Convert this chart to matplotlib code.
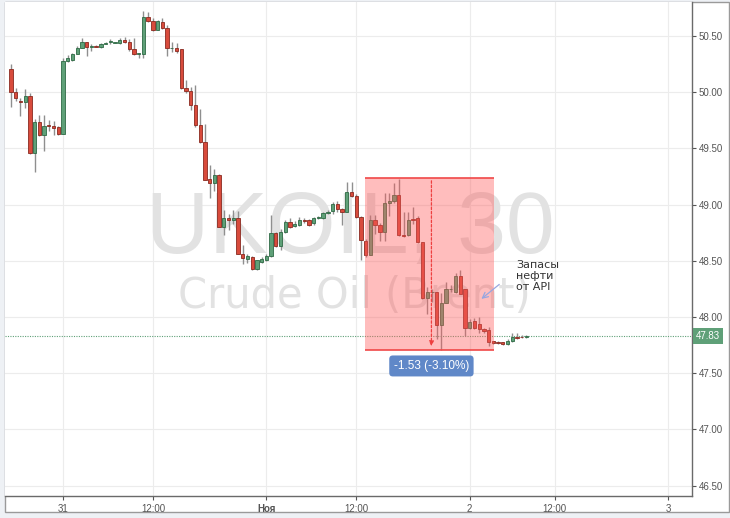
import matplotlib
matplotlib.use("Agg")
import matplotlib.pyplot as plt
from matplotlib.patches import Rectangle
from matplotlib.transforms import blended_transform_factory
import numpy as np

# 30-minute UKOIL candles (open, high, low, close)
opens = [50.21, 50.00, 49.925, 49.91, 49.97, 49.456, 49.73, 49.62, 49.71, 49.70,
         49.69, 49.63, 50.28, 50.29, 50.34, 50.39, 50.45, 50.40, 50.41, 50.40,
         50.43, 50.445, 50.44, 50.44, 50.46, 50.45, 50.38, 50.34, 50.34, 50.67,
         50.63, 50.55, 50.62, 50.57, 50.39, 50.39, 50.38, 50.04, 50.01, 49.89,
         49.71, 49.56, 49.225, 49.19, 49.26, 48.80, 48.88, 48.86, 48.88, 48.56,
         48.515, 48.536, 48.424, 48.49, 48.507, 48.54, 48.745, 48.632, 48.759, 48.848,
         48.81, 48.818, 48.863, 48.86, 48.834, 48.878, 48.878, 48.923, 48.943, 49.005,
         48.961, 48.931, 49.109, 49.079, 48.892, 48.679, 48.552, 48.863, 48.818, 48.753,
         49.01, 49.03, 49.085, 48.73, 48.73, 48.87, 48.878, 48.67, 48.17, 48.22,
         48.22, 47.93, 48.127, 48.246, 48.22, 48.365, 48.246, 47.90, 47.96, 47.94,
         47.89, 47.88, 47.786, 47.78, 47.775, 47.76, 47.786, 47.825, 47.825, 47.82]
highs = [50.25, 50.04, 49.945, 50.03, 49.99, 49.76, 49.80, 49.80, 49.75, 49.74,
         49.70, 50.30, 50.33, 50.35, 50.41, 50.48, 50.45, 50.43, 50.42, 50.44,
         50.45, 50.47, 50.45, 50.48, 50.49, 50.47, 50.48, 50.35, 50.72, 50.715,
         50.66, 50.64, 50.66, 50.60, 50.45, 50.44, 50.38, 50.11, 50.05, 50.06,
         49.85, 49.72, 49.35, 49.32, 49.27, 48.95, 48.92, 48.95, 48.94, 48.64,
         48.56, 48.54, 48.51, 48.53, 48.56, 48.91, 48.76, 48.78, 48.86, 48.88,
         48.85, 48.89, 48.88, 48.87, 48.89, 48.90, 48.93, 48.95, 49.02, 49.03,
         48.97, 49.20, 49.20, 49.09, 48.90, 48.69, 48.91, 48.91, 48.84, 49.10,
         49.10, 49.19, 49.225, 48.93, 48.93, 48.98, 48.90, 48.67, 48.27, 48.25,
         48.225, 48.21, 48.31, 48.28, 48.39, 48.42, 48.25, 47.98, 47.99, 48.00,
         47.90, 47.91, 47.79, 47.79, 47.78, 47.80, 47.86, 47.86, 47.84, 47.84]
lows = [49.87, 49.92, 49.79, 49.86, 49.45, 49.29, 49.61, 49.48, 49.65, 49.62,
        49.62, 49.63, 50.27, 50.28, 50.34, 50.39, 50.32, 50.37, 50.40, 50.39,
        50.43, 50.43, 50.44, 50.43, 50.44, 50.37, 50.33, 50.30, 50.30, 50.62,
        50.54, 50.55, 50.56, 50.32, 50.36, 50.35, 50.03, 49.99, 49.84, 49.69,
        49.55, 49.22, 49.06, 49.12, 48.80, 48.73, 48.77, 48.83, 48.56, 48.47,
        48.48, 48.42, 48.42, 48.48, 48.50, 48.53, 48.62, 48.60, 48.75, 48.79,
        48.80, 48.81, 48.84, 48.81, 48.82, 48.87, 48.87, 48.92, 48.92, 48.93,
        48.82, 48.93, 49.07, 48.88, 48.51, 48.53, 48.55, 48.74, 48.68, 48.68,
        48.90, 49.01, 48.72, 48.71, 48.72, 48.83, 48.66, 48.16, 48.03, 48.13,
        47.80, 47.71, 48.12, 48.22, 48.21, 48.21, 47.83, 47.89, 47.89, 47.86,
        47.86, 47.74, 47.76, 47.76, 47.75, 47.75, 47.78, 47.80, 47.81, 47.81]
closes = [50.00, 49.945, 49.91, 49.97, 49.456, 49.73, 49.62, 49.70, 49.70, 49.68,
          49.63, 50.28, 50.30, 50.34, 50.39, 50.45, 50.40, 50.41, 50.40, 50.43,
          50.44, 50.447, 50.445, 50.46, 50.45, 50.38, 50.34, 50.345, 50.67, 50.63,
          50.55, 50.63, 50.57, 50.39, 50.392, 50.37, 50.04, 50.01, 49.89, 49.71,
          49.56, 49.22, 49.19, 49.26, 48.80, 48.88, 48.86, 48.88, 48.56, 48.525,
          48.54, 48.424, 48.507, 48.516, 48.54, 48.745, 48.632, 48.759, 48.848, 48.803,
          48.83, 48.863, 48.85, 48.82, 48.878, 48.89, 48.923, 48.935, 49.005, 48.961,
          48.931, 49.109, 49.079, 48.892, 48.685, 48.552, 48.863, 48.818, 48.753, 49.01,
          49.03, 49.085, 48.73, 48.72, 48.863, 48.86, 48.67, 48.17, 48.22, 48.225,
          47.93, 48.127, 48.246, 48.25, 48.365, 48.205, 47.90, 47.955, 47.90, 47.89,
          47.875, 47.78, 47.77, 47.77, 47.76, 47.786, 47.825, 47.81, 47.82, 47.83]

last_price = 47.83
x_tick_pos = [11, 30, 54, 73, 97, 115, 139]
x_tick_labels = ["31", "12:00", "Ноя", "12:00", "2", "12:00", "3"]
y_ticks = [46.5, 47.0, 47.5, 48.0, 48.5, 49.0, 49.5, 50.0, 50.5]

# measured move (price range tool)
range_start, range_end = 75, 102
range_high, range_low = 49.236, 47.706
range_label = "-1.53 (-3.10%)"
note_text = "Запасы\nнефти\nот API"

plt.rcParams["font.family"] = ["Liberation Sans", "DejaVu Sans"]

fig = plt.figure(figsize=(7.30, 5.18), dpi=100, facecolor="#eef1f5")
frame = Rectangle((5 / 730, 6 / 518), 724 / 730, 510 / 518,
                  transform=fig.transFigure, facecolor="white",
                  edgecolor="#9a9a9a", linewidth=1.0, zorder=-5)
fig.patches.append(frame)
ax = fig.add_axes([5 / 730, 22 / 518, 687 / 730, 494 / 518])
ax.set_facecolor("white")

up_fill, up_edge = "#5fa078", "#2f6a45"
dn_fill, dn_edge = "#d84b3c", "#8a2a20"
wick_col = "#8f8f8f"
w = 0.7
for i in range(len(opens)):
    o, h, l, c = opens[i], highs[i], lows[i], closes[i]
    ax.vlines(i, l, h, color=wick_col, linewidth=1.0, zorder=3)
    up = c >= o
    bottom = min(o, c)
    height = max(abs(c - o), 0.006)
    ax.add_patch(Rectangle((i - w / 2, bottom), w, height,
                           facecolor=up_fill if up else dn_fill,
                           edgecolor=up_edge if up else dn_edge,
                           linewidth=0.6, zorder=4))

# watermark
ax.text(0.502, 0.492, "UKOIL, 30", transform=ax.transAxes, fontsize=63,
        color="#e2e2e2", ha="center", va="baseline", zorder=1)
ax.text(0.509, 0.381, "Crude Oil (Brent)", transform=ax.transAxes, fontsize=30,
        family="DejaVu Sans", color="#e2e2e2", ha="center", va="baseline",
        zorder=1)

# price range box on top of candles
ax.add_patch(Rectangle((range_start - 0.2, range_low), range_end - range_start + 0.4,
                       range_high - range_low, facecolor="#ff5a5a", alpha=0.4,
                       edgecolor="none", zorder=5))
ax.hlines([range_high, range_low], range_start - 0.2, range_end + 0.2,
          color="#f04848", linewidth=1.2, zorder=6)
mid = (range_start + range_end) / 2 + 0.4
ax.annotate("", xy=(mid, range_low + 0.01), xytext=(mid, range_high),
            arrowprops=dict(arrowstyle="-|>", color="#ee4040", lw=0.9,
                            linestyle=(0, (2, 1.5)), mutation_scale=7),
            zorder=6)
ax.text(mid, range_low - 0.142, range_label, ha="center", va="center",
        fontsize=8.5, color="white", zorder=7,
        bbox=dict(boxstyle="round,pad=0.38,rounding_size=0.3",
                  facecolor="#6088c8", edgecolor="none"))

# news note
ax.text(106.8, 48.51, note_text, ha="left", va="top", fontsize=8,
        family="DejaVu Sans", color="#333333", linespacing=1.15, zorder=7)
ax.annotate("", xy=(99.0, 48.145), xytext=(103.7, 48.305),
            arrowprops=dict(arrowstyle="->", color="#98a6e0", lw=0.9),
            zorder=7)

# last price line and label
ax.axhline(last_price, color="#5fa078", linewidth=0.8, linestyle=(0, (1, 1.2)),
           zorder=2)
trans = blended_transform_factory(ax.transAxes, ax.transData)
ax.text(1.006, last_price, "%.2f" % last_price, transform=trans, ha="left",
        va="center", fontsize=7, color="white", zorder=8, clip_on=False,
        bbox=dict(boxstyle="square,pad=0.3", facecolor="#5fa078",
                  edgecolor="none"))

ax.set_xlim(-1.27, 144.0)
ax.set_ylim(46.407, 50.802)

ax.set_xticks(x_tick_pos)
ax.set_xticklabels(x_tick_labels)
for lab in ax.get_xticklabels():
    if lab.get_text() == "Ноя":
        lab.set_fontweight("bold")
ax.set_yticks(y_ticks)
ax.set_yticklabels(["%.2f" % v for v in y_ticks])
ax.yaxis.tick_right()
ax.tick_params(axis="both", labelsize=7, colors="#555555", length=3,
               width=0.8, pad=2)
ax.tick_params(axis="x", pad=3)

ax.grid(True, color="#ececec", linewidth=0.8, zorder=0)
ax.set_axisbelow(True)

for side in ["top", "left"]:
    ax.spines[side].set_visible(False)
for side in ["right", "bottom"]:
    ax.spines[side].set_color("#6a6a6a")
    ax.spines[side].set_linewidth(1.0)

fig.savefig("out.png", dpi=100, facecolor=fig.get_facecolor())
